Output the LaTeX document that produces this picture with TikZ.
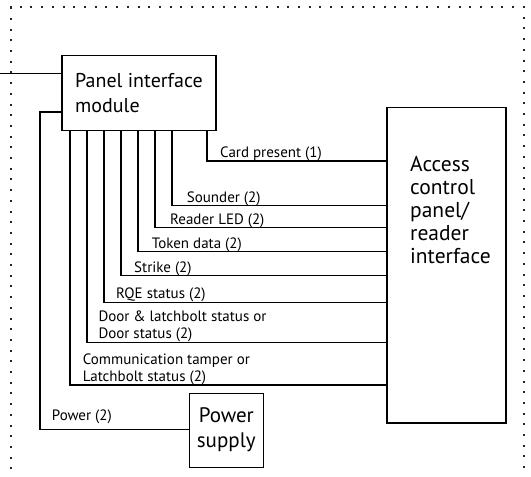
\documentclass[tikz,border=0pt]{standalone}
\usepackage{fontspec}
\setmainfont{PT Sans}
\begin{document}
\begin{tikzpicture}[x=1pt,y=-1pt,
  box/.style={draw=black,line width=1.6pt,inner sep=0pt},
  wire/.style={draw=black,line width=1.3pt},
  frame/.style={draw=black!85,line width=2pt,dash pattern=on 2pt off 8.7pt},
  lbl/.style={anchor=base west,inner sep=0pt,font=\fontsize{15}{17}\selectfont,align=left},
  big/.style={font=\fontsize{20}{25}\selectfont}]
\useasboundingbox (0,0) rectangle (531,477);
% dotted frame
\draw[frame] (11,480) -- (11,7.3) -- (524,7.3) -- (524,480);
% boxes
\node[box,minimum width=154pt,minimum height=75pt] (pim) at (138.7,93.1) {};
\node[box,minimum width=119pt,minimum height=315.4pt] (acp) at (446.2,265) {};
\node[box,minimum width=74pt,minimum height=74pt] (ps) at (226.3,430.3) {};
% box texts
\node[big,anchor=base west,inner sep=0pt,align=left] (pimt) at (75,112) {Panel interface\\module};
\node[font=\fontsize{21.5}{23}\selectfont,anchor=base west,inner sep=0pt,align=left] (acpt) at (410,263) {Access\\control\\panel/\\reader\\interface};
\node[font=\fontsize{21}{25}\selectfont,anchor=base,inner sep=0pt,align=center] (pst) at (226.3,447) {Power\\supply};
% external line
\coordinate (ext) at (0,73.7);
\draw[wire] (ext) -- (pim.west |- ext);
% signal wires
\coordinate (c1) at (207,161);
\coordinate (c2) at (172,205.7);
\coordinate (c3) at (155,227.3);
\coordinate (c4) at (138,251.7);
\coordinate (c5) at (121,275.7);
\coordinate (c6) at (104,302.3);
\coordinate (c7) at (87,342.3);
\coordinate (c8) at (70,385);
\foreach \c in {c1,c2,c3,c4,c5,c6,c7,c8}
  \draw[wire] (pim.south -| \c) |- (acp.west |- \c);
% power wire
\coordinate (pw) at (40,112);
\coordinate (pb) at (40,429.5);
\draw[wire] (pim.west |- pw) -- (pw) -- (pb) -- (ps.west |- pb);
% labels
\node[lbl] (l1) at (220,157) {Card present (1)};
\node[lbl] (l2) at (186.7,202) {Sounder (2)};
\node[lbl] (l3) at (170,224) {Reader LED (2)};
\node[lbl] (l4) at (151.7,248) {Token data (2)};
\node[lbl] (l5) at (134,272.5) {Strike (2)};
\node[lbl] (l6) at (116,298.5) {RQE status (2)};
\node[lbl] (l7) at (98.3,338.5) {Door \& latchbolt status or\\Door status (2)};
\node[lbl] (l8) at (82.7,381) {Communication tamper or\\Latchbolt status (2)};
\node[lbl] (l9) at (51.7,420) {Power (2)};
\end{tikzpicture}
\end{document}
